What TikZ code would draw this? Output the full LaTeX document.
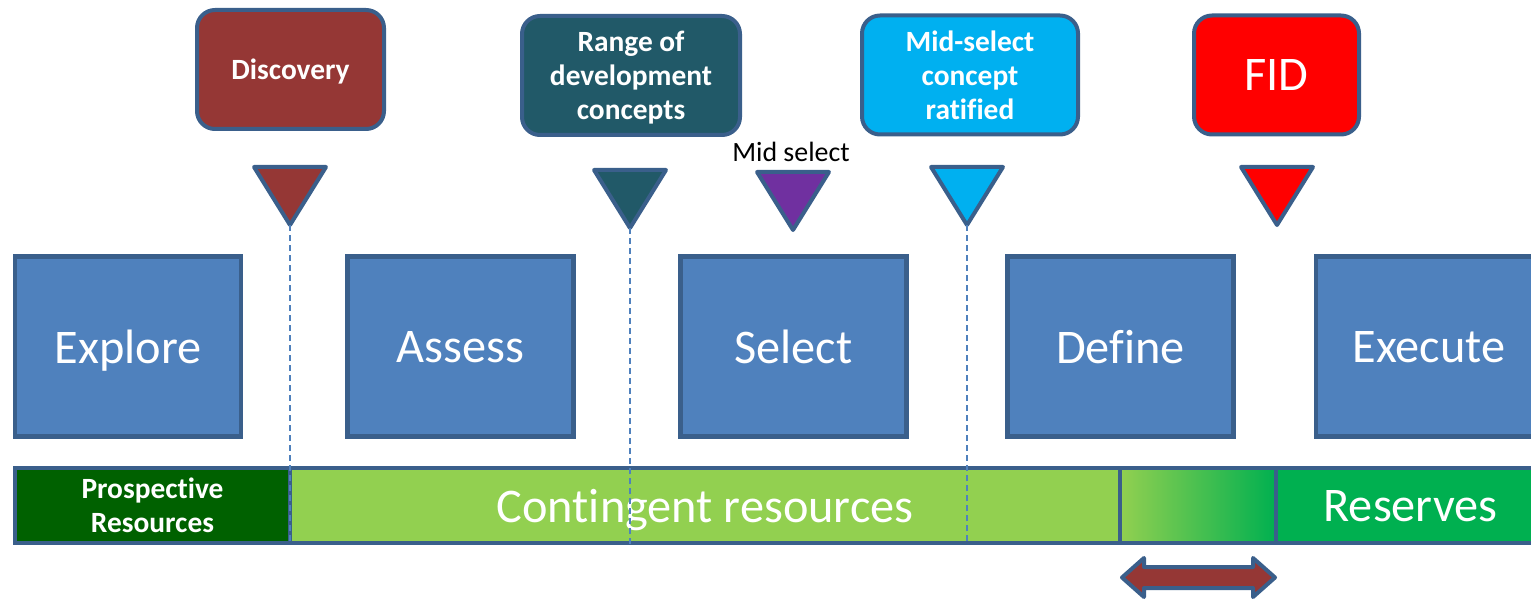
\documentclass[tikz,border=0pt]{standalone}
\usepackage{fontspec}
\setmainfont{Carlito}[Ligatures=NoCommon]
\definecolor{rim}{HTML}{3A5F8B}
\definecolor{phaseblue}{HTML}{4F81BD}
\definecolor{discred}{HTML}{953735}
\definecolor{rangeteal}{HTML}{215968}
\definecolor{midcyan}{HTML}{00B0F0}
\definecolor{midpurple}{HTML}{7030A0}
\definecolor{fidred}{HTML}{FF0000}
\definecolor{prosgreen}{HTML}{006100}
\definecolor{contgreen}{HTML}{92D050}
\definecolor{resgreen}{HTML}{00B050}
\begin{document}
\begin{tikzpicture}[x=1bp,y=-1bp,
    phase/.style={draw=rim,fill=phaseblue,line width=4.5bp,minimum width=226bp,minimum height=180bp,text=white,text depth=0pt,font=\fontsize{48.5}{52}\selectfont},
    callout/.style={draw=rim,line width=4bp,rounded corners=18bp,minimum width=#1,minimum height=119bp,text=white,text depth=0pt,align=center,font=\bfseries\fontsize{29.5}{34}\selectfont},
    marker/.style={draw=rim,line width=4bp,line join=round},
    band/.style={draw=rim,line width=4bp,minimum height=75bp,text=white,text depth=0pt,inner sep=0pt},
    guide/.style={phaseblue,line width=1.3bp,dash pattern=on 6bp off 4bp}]
    \useasboundingbox (0,0) rectangle (1531,604);
    % phases
    \node[phase] (explore) at (128,346.5) {Explore};
    \node[phase] (assess) at (460.5,346.5) {Assess};
    \node[phase] (select) at (793.5,346.5) {Select};
    \node[phase] (define) at (1120.5,346.5) {Define};
    \node[phase] (execute) at (1429,346.5) {Execute};
    % callouts
    \node[callout=187bp,fill=discred] (discovery) at (290.5,69.5) {Discovery};
    \node[callout=218bp,fill=rangeteal] (range) at (631,75.5) {Range of\\development\\concepts};
    \node[callout=216bp,fill=midcyan] (ratified) at (970,75) {Mid-select\\concept\\ratified};
    \node[callout=165bp,fill=fidred,font=\fontsize{48.5}{52}\selectfont] (fid) at (1276.5,75) {FID};
    \node[font=\fontsize{28}{32}\selectfont] (midlbl) at (791,152) {Mid select};
    % markers
    \foreach \x/\y/\c/\n in {290/167/discred/tdisc,630/170/rangeteal/trange,793/172/midpurple/tmid,967/167/midcyan/tratified,1277/167/fidred/tfid}
        \draw[marker,fill=\c] (\x-36,\y) -- (\x+36,\y) -- (\x,\y+58) coordinate (\n) -- cycle;
    % resource band
    \node[band,fill=prosgreen,minimum width=275bp,align=center,font=\bfseries\fontsize{29.5}{34}\selectfont] (prospective) at (152.5,505.5) {Prospective\\Resources};
    \node[band,fill=contgreen,minimum width=830bp,font=\fontsize{48.5}{52}\selectfont] (contingent) at (705,505.5) {Contingent resources};
    \node[band,left color=contgreen,right color=resgreen,minimum width=156bp] (shift) at (1198,505.5) {};
    \node[band,fill=resgreen,minimum width=269bp,font=\fontsize{48.5}{52}\selectfont] (reserves) at (1410.5,505.5) {Reserves};
    \coordinate (base) at (0,545);
    \draw[guide] (tdisc) -- (tdisc |- base);
    \draw[guide] (trange) -- (trange |- base);
    \draw[guide] (tratified) -- (tratified |- base);
    % range arrow
    \draw[marker,fill=discred] (1122,577.5) -- (1144,558) -- (1144,567) -- (1253,567) -- (1253,558) -- (1275,577.5)
        -- (1253,597) -- (1253,588) -- (1144,588) -- (1144,597) -- cycle;
\end{tikzpicture}
\end{document}
